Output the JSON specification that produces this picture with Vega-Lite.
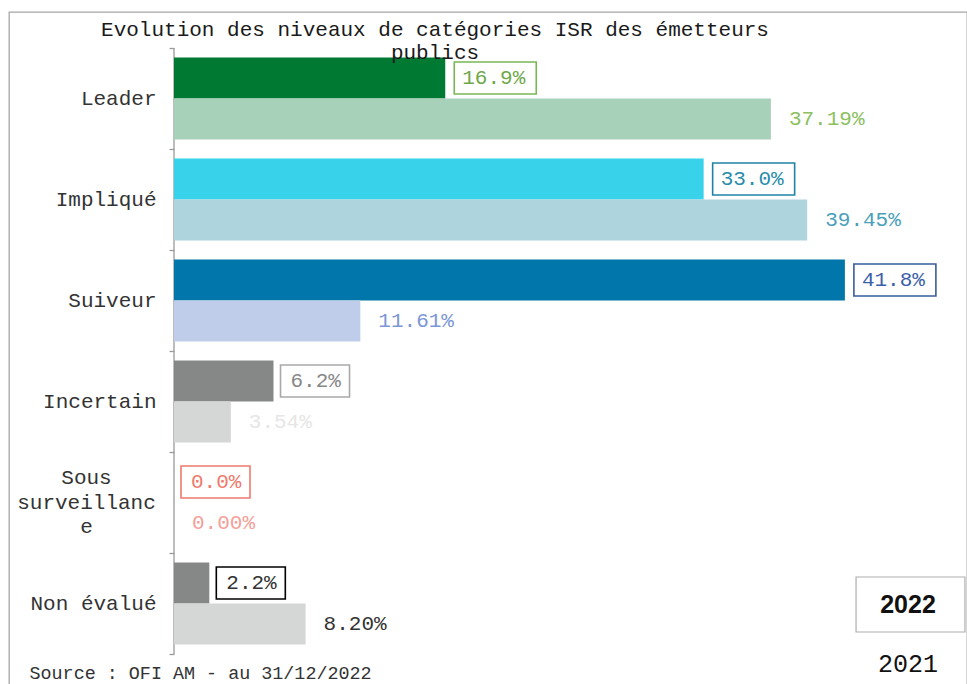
{
  "$schema": "https://vega.github.io/schema/vega-lite/v6.json",
  "width": 958,
  "height": 674,
  "autosize": {"type": "none"},
  "padding": {"left": 9, "top": 12, "right": 0, "bottom": -2},
  "background": "white",
  "config": {
    "font": "Liberation Mono",
    "view": {"stroke": "#a6a6a6", "strokeWidth": 1.3}
  },
  "title": {
    "text": ["Evolution des niveaux de catégories ISR des émetteurs", "publics"],
    "anchor": "middle",
    "frame": "group",
    "dx": -53,
    "offset": -62,
    "font": "Liberation Mono",
    "fontSize": 21,
    "fontWeight": "normal",
    "color": "#1a1a1a",
    "lineHeight": 23
  },
  "data": {
    "values": [
      {"category": "Leader", "year": "2022", "value": 0.169},
      {"category": "Leader", "year": "2021", "value": 0.3719},
      {"category": "Impliqué", "year": "2022", "value": 0.330},
      {"category": "Impliqué", "year": "2021", "value": 0.3945},
      {"category": "Suiveur", "year": "2022", "value": 0.418},
      {"category": "Suiveur", "year": "2021", "value": 0.1161},
      {"category": "Incertain", "year": "2022", "value": 0.062},
      {"category": "Incertain", "year": "2021", "value": 0.0354},
      {"category": "Sous surveillance", "year": "2022", "value": 0.0},
      {"category": "Sous surveillance", "year": "2021", "value": 0.0},
      {"category": "Non évalué", "year": "2022", "value": 0.022},
      {"category": "Non évalué", "year": "2021", "value": 0.082}
    ]
  },
  "encoding": {
    "y": {
      "field": "category",
      "type": "nominal",
      "title": null,
      "scale": {
        "domain": ["Leader", "Impliqué", "Suiveur", "Incertain", "Sous surveillance", "Non évalué"],
        "paddingInner": 0,
        "paddingOuter": 0.3366,
        "align": 0.529
      },
      "axis": {
        "orient": "left",
        "offset": -165,
        "domain": false,
        "grid": false,
        "ticks": true,
        "tickBand": "extent",
        "tickSize": 5,
        "tickColor": "#9a9a9a",
        "tickWidth": 1.3,
        "labelFont": "Liberation Mono",
        "labelFontSize": 21,
        "labelColor": "#333333",
        "labelExpr": "datum.value == 'Sous surveillance' ? ['Sous', 'surveillanc', 'e'] : datum.value",
        "labelAlign": {"condition": {"test": "datum.value == 'Sous surveillance'", "value": "center"}, "value": "right"},
        "labelPadding": {"condition": {"test": "datum.value == 'Sous surveillance'", "value": 83}, "value": 13},
        "labelOffset": {"condition": {"test": "datum.value == 'Sous surveillance'", "value": -24.5}, "value": 0},
        "labelLineHeight": 24.5,
        "labelBaseline": "middle",
        "labelLimit": 400,
        "labelOverlap": false,
        "zindex": 1
      }
    },
    "x": {
      "field": "value",
      "type": "quantitative",
      "title": "Source : OFI AM - au 31/12/2022",
      "scale": {"domain": [-0.102804, 0.494081], "nice": false, "zero": false},
      "axis": {
        "orient": "bottom",
        "labels": false,
        "ticks": false,
        "domain": false,
        "grid": false,
        "titleFont": "Liberation Mono",
        "titleFontSize": 18.4,
        "titleFontWeight": "normal",
        "titleColor": "#333333",
        "titleAnchor": "start",
        "titleAlign": "left",
        "titleX": 20,
        "titleY": -8,
        "titleBaseline": "alphabetic"
      }
    }
  },
  "layer": [
    {
      "transform": [{"filter": "datum.year == '2022'"}],
      "mark": {"type": "rect", "fillOpacity": 0, "stroke": "#9a9a9a", "strokeWidth": 1.3},
      "encoding": {
        "x": {"datum": 0, "type": "quantitative", "title": "Source : OFI AM - au 31/12/2022"},
        "x2": {"datum": 0}
      }
    },
    {
      "transform": [{"filter": "datum.year == '2022'"}],
      "mark": {"type": "bar"},
      "encoding": {
        "yOffset": {"field": "year", "type": "nominal", "scale": {"domain": ["2022", "2021"], "paddingInner": 0, "paddingOuter": 0.23}},
        "fill": {
          "field": "category", "type": "nominal", "legend": null,
          "scale": {
            "domain": ["Leader", "Impliqué", "Suiveur", "Incertain", "Sous surveillance", "Non évalué"],
            "range": ["#007a33", "#38d3eb", "#0076aa", "#868888", "#f07a6c", "#868888"]
          }
        }
      }
    },
    {
      "transform": [{"filter": "datum.year == '2021'"}],
      "mark": {"type": "bar"},
      "encoding": {
        "yOffset": {"field": "year", "type": "nominal", "scale": {"domain": ["2022", "2021"], "paddingInner": 0, "paddingOuter": 0.23}},
        "fill": {
          "field": "category", "type": "nominal", "legend": null,
          "scale": {
            "domain": ["Leader", "Impliqué", "Suiveur", "Incertain", "Sous surveillance", "Non évalué"],
            "range": ["#a8d1ba", "#aed4de", "#bfcdeb", "#d5d6d6", "#f4a098", "#d5d6d6"]
          }
        }
      }
    },
    {
      "transform": [{"filter": "datum.year == '2022' && datum.value >= 0.1"}],
      "mark": {"type": "bar", "fill": "white", "strokeWidth": 1.6, "height": 32, "xOffset": 9, "x2Offset": 91},
      "encoding": {
        "x2": {"field": "value"},
        "yOffset": {"field": "year", "type": "nominal", "scale": {"domain": ["2022", "2021"], "paddingInner": 0, "paddingOuter": 0.23}},
        "stroke": {
          "field": "category", "type": "nominal", "legend": null,
          "scale": {
            "domain": ["Leader", "Impliqué", "Suiveur", "Incertain", "Sous surveillance", "Non évalué"],
            "range": ["#78b854", "#1f82a6", "#3a5c9e", "#a9a9a9", "#f07a6c", "#000000"]
          }
        }
      }
    },
    {
      "transform": [{"filter": "datum.year == '2022' && datum.value < 0.1"}],
      "mark": {"type": "bar", "fill": "white", "strokeWidth": 1.6, "height": 32, "xOffset": 7, "x2Offset": 76},
      "encoding": {
        "x2": {"field": "value"},
        "yOffset": {"field": "year", "type": "nominal", "scale": {"domain": ["2022", "2021"], "paddingInner": 0, "paddingOuter": 0.23}},
        "stroke": {
          "field": "category", "type": "nominal", "legend": null,
          "scale": {
            "domain": ["Leader", "Impliqué", "Suiveur", "Incertain", "Sous surveillance", "Non évalué"],
            "range": ["#78b854", "#1f82a6", "#3a5c9e", "#a9a9a9", "#f07a6c", "#000000"]
          }
        }
      }
    },
    {
      "transform": [{"filter": "datum.year == '2022'"}],
      "mark": {"type": "text", "align": "left", "baseline": "middle", "dx": 17, "fontSize": 21, "font": "Liberation Mono"},
      "encoding": {
        "yOffset": {"field": "year", "type": "nominal", "scale": {"domain": ["2022", "2021"], "paddingInner": 0, "paddingOuter": 0.23}},
        "text": {"field": "value", "type": "quantitative", "format": ".1%"},
        "color": {
          "field": "category", "type": "nominal", "legend": null,
          "scale": {
            "domain": ["Leader", "Impliqué", "Suiveur", "Incertain", "Sous surveillance", "Non évalué"],
            "range": ["#6fa84a", "#2a8caa", "#3a5fa8", "#888888", "#f07a6c", "#333333"]
          }
        }
      }
    },
    {
      "transform": [{"filter": "datum.year == '2021'"}],
      "mark": {"type": "text", "align": "left", "baseline": "middle", "dx": 18, "fontSize": 21, "font": "Liberation Mono"},
      "encoding": {
        "yOffset": {"field": "year", "type": "nominal", "scale": {"domain": ["2022", "2021"], "paddingInner": 0, "paddingOuter": 0.23}},
        "text": {"field": "value", "type": "quantitative", "format": ".2%"},
        "color": {
          "field": "category", "type": "nominal", "legend": null,
          "scale": {
            "domain": ["Leader", "Impliqué", "Suiveur", "Incertain", "Sous surveillance", "Non évalué"],
            "range": ["#8cc060", "#4a9fbb", "#7c96d6", "#e6e6e6", "#f4a098", "#333333"]
          }
        }
      }
    },
    {
      "transform": [{"filter": "datum.value < 0"}],
      "mark": {"type": "point", "filled": false, "color": "#8c8c8c", "strokeWidth": 1.2, "size": 3025},
      "encoding": {
        "shape": {
          "field": "year", "type": "nominal",
          "scale": {"domain": ["2022", "2021"], "range": ["M-1.98,-1H1.98V1H-1.98Z", "M0,0"]},
          "legend": {
            "orient": "none",
            "legendX": 873,
            "legendY": 564,
            "title": null,
            "padding": 0,
            "symbolSize": 3025,
            "symbolStrokeColor": "#8c8c8c",
            "symbolStrokeWidth": 1.2,
            "symbolFillColor": "transparent",
            "labelFontSize": 25,
            "labelFont": {"expr": "datum.label == '2022' ? 'Liberation Sans' : 'Liberation Mono'"},
            "labelFontWeight": {"expr": "datum.label == '2022' ? 'bold' : 'normal'"},
            "labelColor": "#111111",
            "labelAlign": "center",
            "labelOffset": -31,
            "rowPadding": -6,
            "labelLimit": 200
          }
        }
      }
    }
  ],
  "resolve": {"scale": {"fill": "independent", "color": "independent", "stroke": "independent"}}
}
